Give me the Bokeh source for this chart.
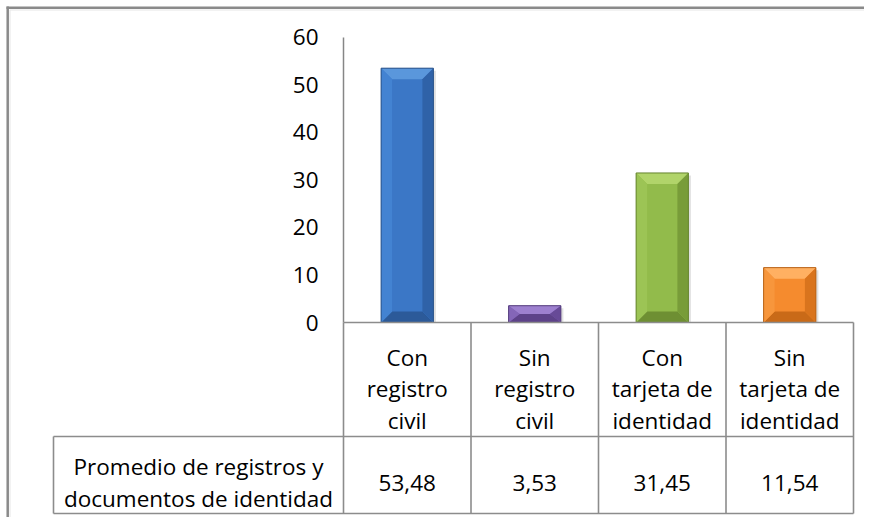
from bokeh.plotting import figure
from bokeh.models import Range1d, LinearAxis, FixedTicker
from bokeh.core.properties import value
from bokeh.embed import file_html
from bokeh.resources import INLINE

# ---------------- data ----------------
categories = ["Con registro civil", "Sin registro civil",
              "Con tarjeta de identidad", "Sin tarjeta de identidad"]
category_lines = [["Con", "registro", "civil"],
                  ["Sin", "registro", "civil"],
                  ["Con", "tarjeta de", "identidad"],
                  ["Sin", "tarjeta de", "identidad"]]
values = [53.48, 3.53, 31.45, 11.54]
series_lines = ["Promedio de registros y", "documentos de identidad"]
y_ticks = [0, 10, 20, 30, 40, 50, 60]

# bar colours: body, top bevel, left bevel, right bevel, bottom bevel, outline
bar_styles = [
    ("#3b77c6", "#5a97dc", "#4383d2", "#2f62a8", "#2c5a99", "#2a5288"),
    ("#7b5caf", "#9d80cf", "#8466b8", "#674a97", "#5d4289", "#553d7d"),
    ("#92bb4b", "#b1d46a", "#9cc455", "#789c39", "#6e8f33", "#66852f"),
    ("#f58b2e", "#ffb062", "#f7963c", "#d9741d", "#c96a18", "#b86216"),
]

# ---------------- layout constants (pixels) ----------------
W, H = 864, 517
FRAME_L, FRAME_R, FRAME_B = 343, 853, 322
PX_PER_CAT = (FRAME_R - FRAME_L) / len(categories)
PX_PER_UNIT = 4.755
Y_END = FRAME_B / PX_PER_UNIT

def X(sx):
    return (sx - FRAME_L) / PX_PER_CAT

def Y(sy):
    return (FRAME_B - sy) / PX_PER_UNIT

FONT_NAME = "Open Sans"
FONT = value(FONT_NAME)
FSIZE = value("22.5px")
GRID_C = "#8c8c8c"

p = figure(width=W, height=H, output_backend="svg", toolbar_location=None,
           x_range=Range1d(0, len(categories)), y_range=Range1d(0, Y_END),
           x_axis_location=None, y_axis_location=None,
           min_border_left=FRAME_L, min_border_right=W - FRAME_R,
           min_border_top=0, min_border_bottom=H - FRAME_B)
p.outline_line_color = None
p.background_fill_color = "white"
p.border_fill_color = "white"
p.grid.grid_line_color = None

# y axis
yax = LinearAxis(ticker=FixedTicker(ticks=y_ticks), bounds=(y_ticks[0], y_ticks[-1]))
yax.axis_line_color = "#868686"
yax.axis_line_width = 1.5
yax.major_tick_line_color = None
yax.minor_tick_line_color = None
yax.major_tick_out = 0
yax.major_tick_in = 0
yax.major_label_standoff = 25
yax.major_label_text_font = FONT_NAME
yax.major_label_text_font_size = "22.5px"
yax.major_label_text_color = "black"
p.add_layout(yax, "left")

# bars with bevel
BAR_W = 0.41
bev_px = 11
sh_px = 2.5
xs_c = [i + 0.5 for i in range(len(categories))]
for i, v in enumerate(values):
    body, light, left, right, bottom, edge = bar_styles[i]
    x0, x1 = xs_c[i] - BAR_W / 2, xs_c[i] + BAR_W / 2
    bx = bev_px / PX_PER_CAT
    by = min(bev_px, v * PX_PER_UNIT / 2) / PX_PER_UNIT
    # soft shadow
    p.vbar(x=[xs_c[i] + sh_px / PX_PER_CAT], top=[v - sh_px / PX_PER_UNIT], bottom=0,
           width=BAR_W, fill_color="#000000", fill_alpha=0.12, line_color=None)
    p.vbar(x=[xs_c[i]], top=[v], bottom=0, width=BAR_W, fill_color=body,
           line_color=None)
    polys_x = [
        [x0, x1, x1 - bx, x0 + bx],
        [x0, x1, x1 - bx, x0 + bx],
        [x0, x0, x0 + bx, x0 + bx],
        [x1, x1, x1 - bx, x1 - bx],
    ]
    polys_y = [
        [v, v, v - by, v - by],
        [0, 0, by, by],
        [0, v, v - by, by],
        [0, v, v - by, by],
    ]
    p.patches(polys_x, polys_y, fill_color=[light, bottom, left, right],
              line_color=None)
    p.vbar(x=[xs_c[i]], top=[v], bottom=0, width=BAR_W, fill_color=None,
           line_color=edge, line_width=1)

# ---------------- data table ----------------
n = len(categories)
top_y, mid_y, bot_y = Y(322), Y(436), Y(513)
box_l = X(53)
seg_x0 = [0] + [k for k in range(n + 1)] + [box_l, box_l, box_l]
seg_x1 = [n] + [k for k in range(n + 1)] + [n, n, box_l]
seg_y0 = [top_y] + [top_y] * (n + 1) + [mid_y, bot_y, mid_y]
seg_y1 = [top_y] + [bot_y] * (n + 1) + [mid_y, bot_y, bot_y]
p.segment(x0=seg_x0, y0=seg_y0, x1=seg_x1, y1=seg_y1, line_color=GRID_C,
          line_width=1.6, level="overlay")

# outer chart border (left and top)
p.segment(x0=[X(6), X(7.2)], y0=[Y(7.2), Y(6)], x1=[X(880), X(7.2)], y1=[Y(7.2), Y(530)],
          line_color="#8a8a8a", line_width=2.5, level="overlay")
p.segment(x0=[X(9.5), X(9.5)], y0=[Y(9.5), Y(9.5)], x1=[X(880), X(9.5)], y1=[Y(9.5), Y(530)],
          line_color="#e6e6e6", line_width=1, level="overlay")

# header texts
hx, hy, ht = [], [], []
head_base = [357, 388.3, 419.5]
for i, lines in enumerate(category_lines):
    for j, t in enumerate(lines):
        hx.append(xs_c[i]); hy.append(Y(head_base[j])); ht.append(t)
p.text(x=hx, y=hy, text=ht, text_font=FONT, text_font_size=FSIZE,
       text_align="center", text_baseline="alphabetic", text_color="black",
       level="overlay")

# row label
row_cx = (box_l + 0) / 2
p.text(x=[row_cx, row_cx], y=[Y(465.5), Y(497.5)], text=series_lines,
       text_font=FONT, text_font_size=FSIZE, text_align="center",
       text_baseline="alphabetic", text_color="black", level="overlay")

# values
val_txt = [f"{v:.2f}".replace(".", ",") for v in values]
p.text(x=xs_c, y=[Y(482.5)] * n, text=val_txt, text_font=FONT,
       text_font_size=FSIZE, text_align="center", text_baseline="alphabetic",
       text_color="black", level="overlay")

open("out.html", "w").write(file_html(p, INLINE))
